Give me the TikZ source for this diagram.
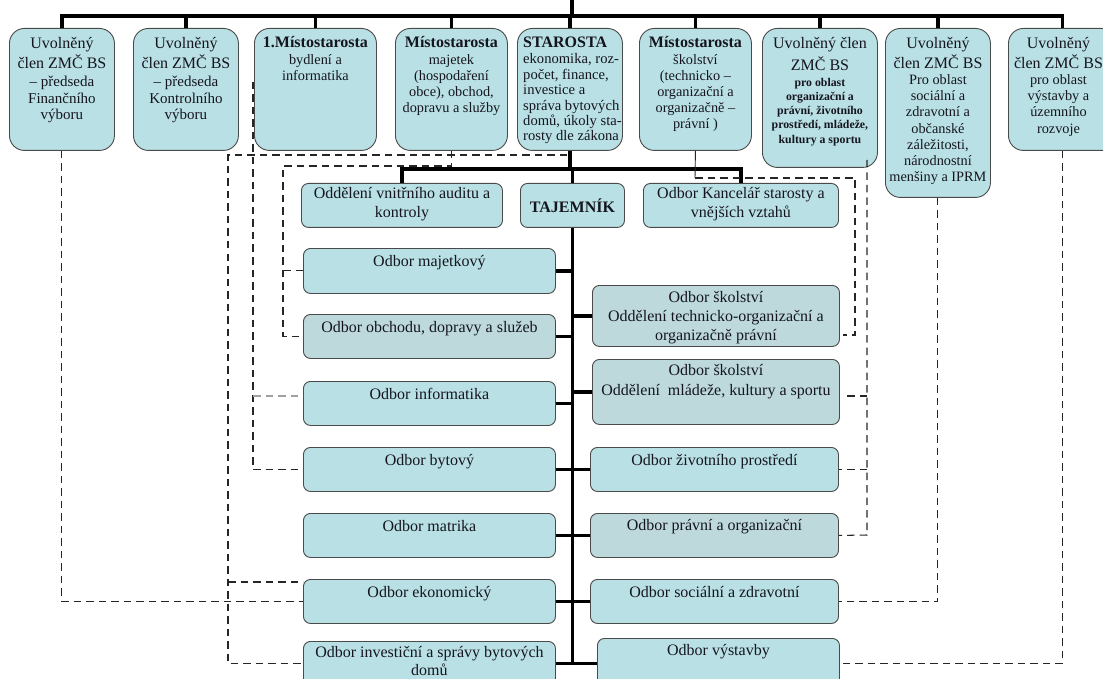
\documentclass[tikz,border=0pt]{standalone}
\usepackage{fontspec}
\setmainfont{Liberation Serif}
\definecolor{boxc}{HTML}{B9E0E4}
\definecolor{boxg}{HTML}{BDD9DC}
\definecolor{bordc}{HTML}{4A4A4A}
\definecolor{txtc}{HTML}{15151F}
\definecolor{dashc}{HTML}{262626}
\definecolor{grayd}{HTML}{A0A0A0}
\newcommand{\fA}{\fontsize{16}{18}\selectfont}
\newcommand{\fB}{\fontsize{14.3}{16.2}\selectfont}
\newcommand{\fD}{\fontsize{15}{17}\selectfont}
\newcommand{\fC}{\fontsize{11.8}{14.3}\selectfont\bfseries}
\newcommand{\fM}{\fontsize{16}{19.5}\selectfont}
\newcommand{\fS}{\fontsize{14.6}{15.4}\selectfont}
\tikzset{
  box/.style={draw=bordc, line width=0.9pt, fill=boxc, rounded corners=7pt, anchor=north west, inner sep=0pt},
  topbox/.style={box, rounded corners=15pt},
  gbox/.style={box, fill=boxg},
  lbl/.style={anchor=north, align=center, inner sep=0pt, text=txtc},
  thk/.style={line width=3.6pt, black, line join=miter},
  dsh/.style={draw=dashc, line width=1.05pt, dash pattern=on 7.5pt off 5pt},
}
\begin{document}
\begin{tikzpicture}[x=1pt,y=-1pt]
\useasboundingbox (0,0) rectangle (1103,679);

% top row boxes
\node[topbox, minimum width=105pt, minimum height=122pt] (b1) at (9,28) {};
\node[topbox, minimum width=105pt, minimum height=122pt] (b2) at (133,28) {};
\node[topbox, minimum width=122pt, minimum height=122pt] (b3) at (254,28) {};
\node[topbox, minimum width=112pt, minimum height=122pt] (b4) at (395,28) {};
\node[topbox, minimum width=105pt, minimum height=122pt] (b5) at (517,28) {};
\node[topbox, minimum width=112pt, minimum height=122pt] (b6) at (639,28) {};
\node[topbox, minimum width=115pt, minimum height=139pt] (b7) at (762,28) {};
\node[topbox, minimum width=105pt, minimum height=169pt] (b8) at (885,28) {};
\node[topbox, minimum width=108pt, minimum height=122pt] (b9) at (1008,28) {};

\node[lbl, font=\fD] (b1t) at ([yshift=-9.5pt]b1.north) {{\fA Uvolněný}\\[1pt]{\fA člen ZMČ BS}\\[1pt]– předseda\\Finančního\\[-1pt]výboru};
\node[lbl, font=\fD] (b2t) at ([yshift=-9.5pt]b2.north) {{\fA Uvolněný}\\[1pt]{\fA člen ZMČ BS}\\[1pt]– předseda\\Kontrolního\\[-1pt]výboru};
\node[lbl, font=\fB] (b3t) at ([yshift=-8.5pt]b3.north) {{\fA\bfseries 1.Místostarosta}\\[0.5pt]bydlení a\\informatika};
\node[lbl, font=\fB] (b4t) at ([yshift=-8.5pt]b4.north) {{\fA\bfseries Místostarosta}\\[0pt]majetek\\(hospodaření\\obce), obchod,\\dopravu a služby};
\node[lbl, font=\fS, anchor=north west, align=left] (b5t) at ([xshift=6pt,yshift=-8.5pt]b5.north west) {{\fA\bfseries STAROSTA}\\[1.2pt]ekonomika, roz-\\počet, finance,\\investice a\\správa bytových\\domů, úkoly sta-\\rosty dle zákona};
\node[lbl, font=\fB] (b6t) at ([yshift=-8.5pt]b6.north) {{\fA\bfseries Místostarosta}\\[0pt]školství\\(technicko –\\organizační a\\organizačně –\\právní )};
\node[lbl, font=\fC] (b7t) at ([yshift=-9pt]b7.north) {{\fA\mdseries Uvolněný člen}\\[3.7pt]{\fA\mdseries ZMČ BS}\\[1.5pt]pro oblast\\organizační a\\právní, životního\\prostředí, mládeže,\\kultury a sportu};
\node[lbl, font=\fB] (b8t) at ([yshift=-9pt]b8.north) {{\fA Uvolněný}\\[1.8pt]{\fA člen ZMČ BS}\\Pro oblast\\sociální a\\zdravotní a\\občanské\\záležitosti,\\národnostní\\menšiny a IPRM};
\node[lbl, font=\fB] (b9t) at ([xshift=-4pt,yshift=-9pt]b9.north) {{\fA Uvolněný}\\[1.8pt]{\fA člen ZMČ BS}\\pro oblast\\výstavby a\\územního\\rozvoje};

% second level
\node[box, minimum width=201pt, minimum height=44pt] (audit) at (301,183) {};
\node[box, minimum width=104pt, minimum height=44pt, text=txtc, font=\fA\bfseries] (taj) at (520,183) {TAJEMNÍK};
\node[box, minimum width=195pt, minimum height=44pt] (kanc) at (643,183) {};
\node[lbl, font=\fM] (auditt) at ([yshift=-4pt]audit.north) {Oddělení vnitřního auditu a\\kontroly};
\node[lbl, font=\fM] (kanct) at ([yshift=-4pt]kanc.north) {Odbor Kancelář starosty a\\vnějších vztahů};

% left column
\node[box, minimum width=252pt, minimum height=45pt] (maj) at (303,248) {};
\node[gbox, minimum width=252pt, minimum height=44pt] (obch) at (303,314) {};
\node[box, minimum width=252pt, minimum height=44pt] (inf) at (303,381) {};
\node[box, minimum width=252pt, minimum height=44pt] (byt) at (303,447) {};
\node[box, minimum width=252pt, minimum height=44pt] (mat) at (303,513) {};
\node[box, minimum width=252pt, minimum height=44pt] (eko) at (303,579) {};
\node[box, minimum width=252pt, minimum height=44pt] (inv) at (303,641) {};
\node[lbl, font=\fM] (majt) at ([yshift=-7pt]maj.north) {Odbor majetkový};
\node[lbl, font=\fM] (obcht) at ([yshift=-7pt]obch.north) {Odbor obchodu, dopravy a služeb};
\node[lbl, font=\fM] (inft) at ([yshift=-7pt]inf.north) {Odbor informatika};
\node[lbl, font=\fM] (bytt) at ([yshift=-7pt]byt.north) {Odbor bytový};
\node[lbl, font=\fM] (matt) at ([yshift=-7pt]mat.north) {Odbor matrika};
\node[lbl, font=\fM] (ekot) at ([yshift=-7pt]eko.north) {Odbor ekonomický};
\node[lbl, font=\fontsize{16}{18}\selectfont] (invt) at ([yshift=-5pt]inv.north) {Odbor investiční a správy bytových\\domů};

% right column
\node[gbox, minimum width=247pt, minimum height=61pt] (sk1) at (592,285) {};
\node[gbox, minimum width=247pt, minimum height=65pt] (sk2) at (592,359) {};
\node[box, minimum width=248pt, minimum height=44pt] (zp) at (590,447) {};
\node[gbox, minimum width=248pt, minimum height=44pt] (pr) at (590,513) {};
\node[box, minimum width=248pt, minimum height=44pt] (soc) at (590,579) {};
\node[box, minimum width=242pt, minimum height=50pt] (vys) at (597,638) {};
\node[lbl, font=\fontsize{16}{19}\selectfont] (sk1t) at ([yshift=-6pt]sk1.north) {Odbor školství\\Oddělení technicko-organizační a\\organizačně právní};
\node[lbl, font=\fontsize{16}{20}\selectfont] (sk2t) at ([yshift=-5pt]sk2.north) {Odbor školství\\Oddělení\ \ mládeže, kultury a sportu};
\node[lbl, font=\fM] (zpt) at ([yshift=-7pt]zp.north) {Odbor životního prostředí};
\node[lbl, font=\fM] (prt) at ([yshift=-6pt]pr.north) {Odbor právní a organizační};
\node[lbl, font=\fM] (soct) at ([yshift=-7pt]soc.north) {Odbor sociální a zdravotní};
\node[lbl, font=\fM] (vyst) at ([yshift=-6pt]vys.north) {Odbor výstavby};

% solid hierarchy
\coordinate (topc) at (572,0);
\coordinate (bar) at (572,16);
\coordinate (hub) at (571,169);
\draw[thk] (topc) -- (bar);
\draw[thk] (b1.north) -- (b1.north |- bar) -- (b9.north |- bar) -- (b9.north);
\foreach \b in {b2,b3,b4,b5,b6,b7,b8} \draw[thk] (\b.north |- bar) -- (\b.north);
\draw[thk] (b5.south) -- (b5.south |- hub);
\draw[thk] (audit.north) -- (audit.north |- hub) -- (kanc.north |- hub) -- (kanc.north);
\draw[thk] (taj.north |- hub) -- (taj.north);
\draw[thk] (taj.south) -- (taj.south |- inv.east);
\foreach \n in {maj,obch,inf,byt,mat,eko,inv} \draw[thk] (\n.east) -- (\n.east -| taj.south);
\foreach \n in {sk1,sk2,zp,pr,soc,vys} \draw[thk] (\n.west) -- (\n.west -| taj.south);

% dashed relations
\draw[dsh] (b1.south) |- (eko.west);
\coordinate (s1) at (567,155);
\coordinate (s2) at (228,155);
\coordinate (s3) at (228,582);
\draw[dsh] (s1) -- (s2) |- (inv.west);
\draw[dsh] (s3) -- (s3 -| eko.west);
\coordinate (c1) at (253,82);
\coordinate (c2) at (253,396);
\draw[dsh] (c1) |- (byt.west);
\draw[dsh, draw=grayd] (c2) -- (c2 -| inf.west);
\coordinate (d1) at (283,166);
\draw[dsh] (b4.south) |- (d1) |- (obch.west);
\draw[dsh] (d1 |- maj.west) -- (maj.west);
\coordinate (e1) at (695,178);
\coordinate (e2) at (855,178);
\coordinate (e3) at (855,335);
\coordinate (e4) at (843,335);
\draw[line width=0.9pt, dashc] (b6.south) -- (e1);
\draw[dsh] (e1) -- (e2) -- (e3) -- (e4);
\coordinate (f1) at (867,160);
\coordinate (f2) at (867,535);
\coordinate (f3) at (867,396);
\coordinate (f4) at (843,396);
\draw[dsh] (f1) -- (f2) -- (pr.east);
\draw[dsh] (f3) -- (f4);
\draw[dsh] (f2 |- zp.east) -- (zp.east);
\draw[dsh] (b8.south) |- (soc.east);
\draw[dsh] (b9.south) |- (vys.east);
\end{tikzpicture}
\end{document}
